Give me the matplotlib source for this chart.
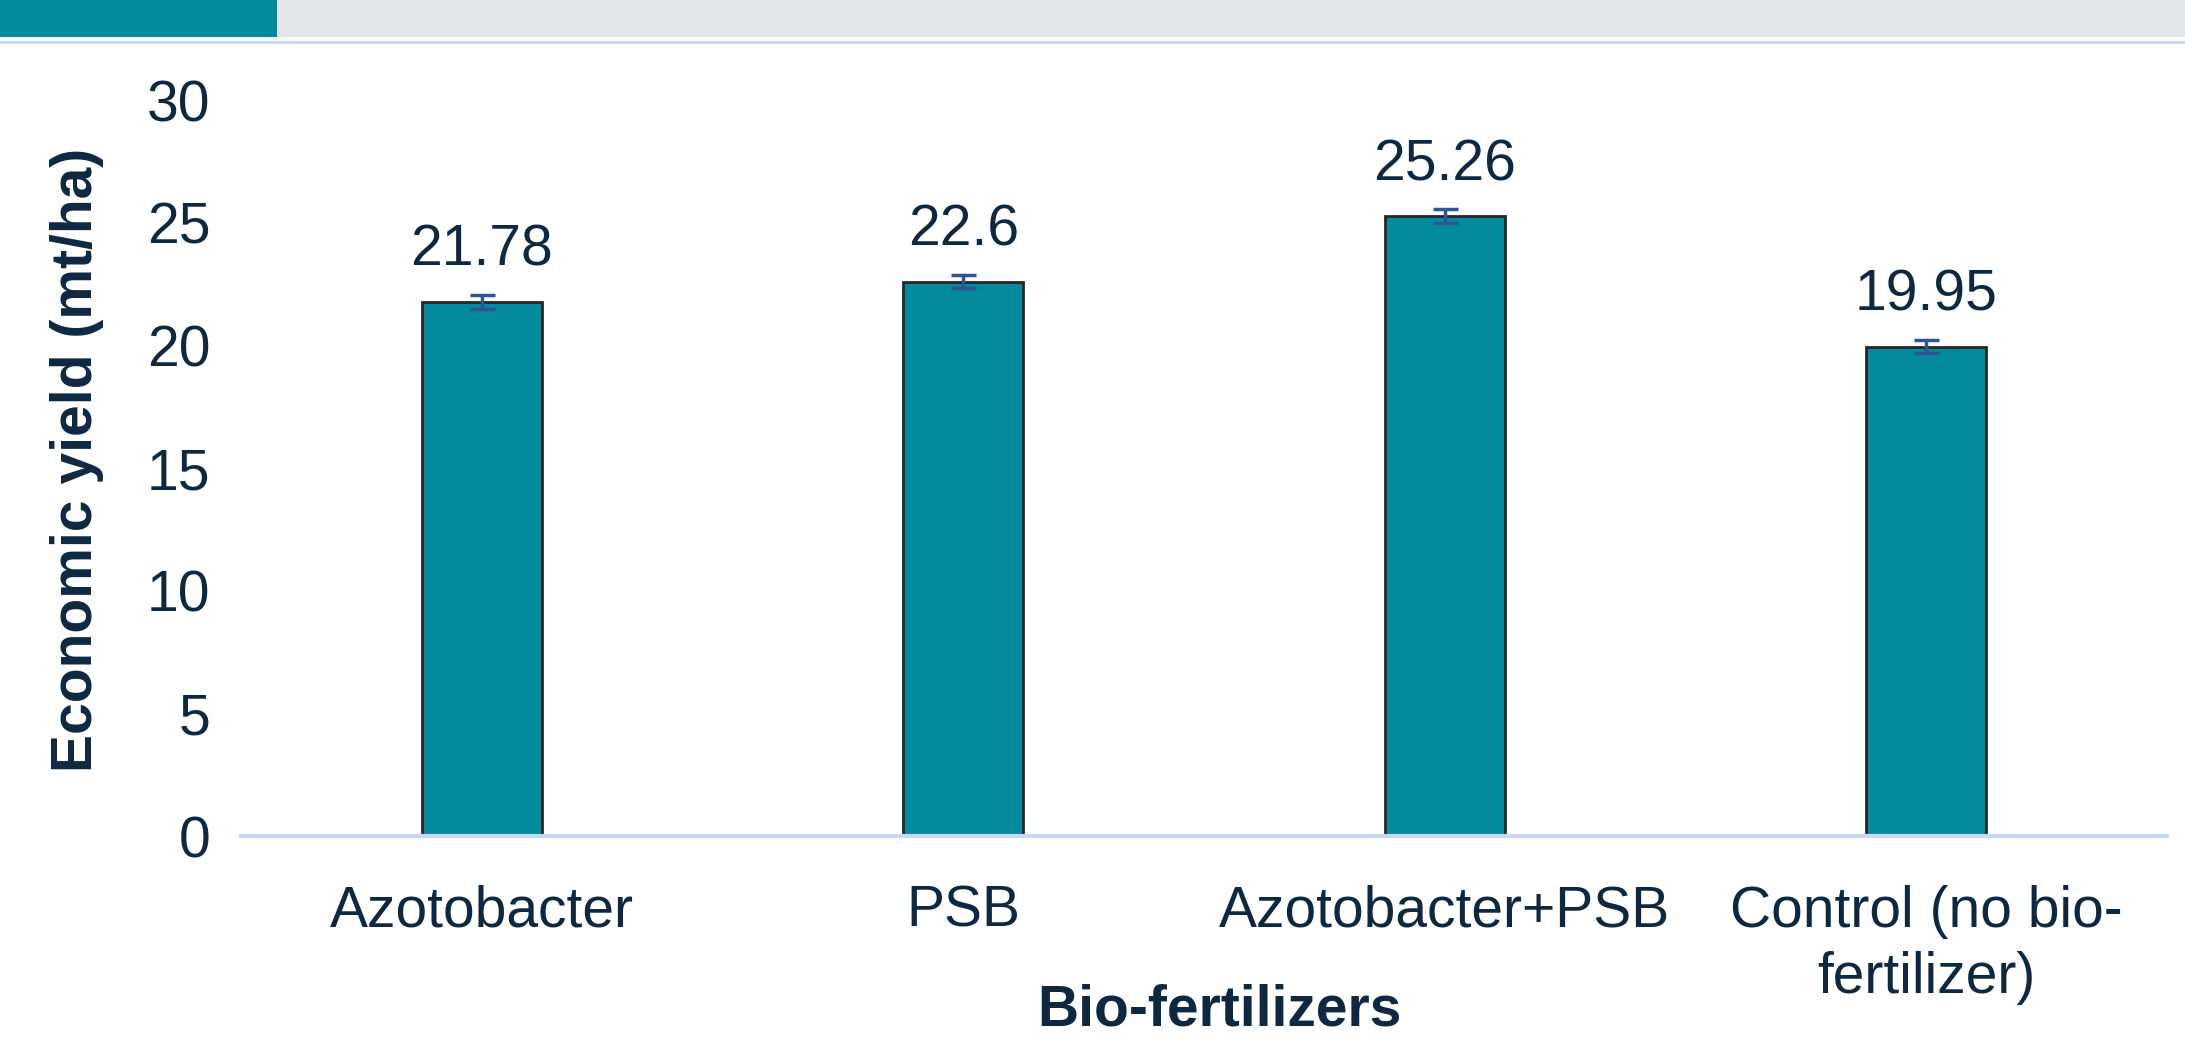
import matplotlib.pyplot as plt
from matplotlib.patches import Rectangle

# Data
categories = ['Azotobacter', 'PSB', 'Azotobacter+PSB', 'Control (no bio-\nfertilizer)']
yield_vals = [21.78, 22.6, 25.26, 19.95]
yield_err = [0.28, 0.28, 0.28, 0.28]
value_labels = ['21.78', '22.6', '25.26', '19.95']
y_ticks = [0, 5, 10, 15, 20, 25, 30]

text_col = '#0E2841'
bar_col = '#038A9C'
fs = 41

plt.rcParams['font.family'] = ['Liberation Sans', 'DejaVu Sans']

fig = plt.figure(figsize=(21.85, 10.52), dpi=100)

# header strip at the top
fig.patches.append(Rectangle((0, 1 - 37 / 1052), 1, 37 / 1052, transform=fig.transFigure,
                             facecolor='#E5E6E8', edgecolor='none', zorder=0))
fig.patches.append(Rectangle((0, 1 - 37 / 1052), 277 / 2185, 37 / 1052, transform=fig.transFigure,
                             facecolor='#038A9C', edgecolor='none', zorder=1))
fig.patches.append(Rectangle((0, 1 - 44 / 1052), 1, 3 / 1052, transform=fig.transFigure,
                             facecolor='#C9DAF0', edgecolor='none', zorder=1))

ax = fig.add_axes([241 / 2185, 1 - 836 / 1052, 1926 / 2185, 736 / 1052])

x = range(len(categories))
ax.bar(x, yield_vals, width=0.25, color=bar_col, edgecolor='#262626', linewidth=2, zorder=2)
ax.errorbar(x, yield_vals, yerr=yield_err, fmt='none', ecolor='#2F5597',
            elinewidth=2.5, capsize=9, capthick=2.5, zorder=3)

for xi, v, lab in zip(x, yield_vals, value_labels):
    ax.annotate(lab, (xi, v), xytext=(0, 51), textcoords='offset pixels',
                ha='center', va='center', fontsize=fs, color=text_col)

ax.set_xlim(-0.5, len(categories) - 0.5)
ax.set_ylim(0, 30)
ax.set_yticks(y_ticks)
ax.set_xticks(list(x))
ax.set_xticklabels(categories, linespacing=1.3)
ax.tick_params(axis='both', length=0, labelsize=fs, labelcolor=text_col)
ax.tick_params(axis='y', pad=22)
ax.tick_params(axis='x', pad=35)

for s in ['top', 'right', 'left']:
    ax.spines[s].set_visible(False)
ax.spines['bottom'].set_color('#C9DAF0')
ax.spines['bottom'].set_linewidth(3)

ax.set_ylabel('Economic yield (mt/ha)', fontsize=fs, fontweight='bold', color=text_col, va='center')
ax.yaxis.set_label_coords(-0.085, 0.511)
ax.set_xlabel('Bio-fertilizers', fontsize=fs, fontweight='bold', color=text_col, va='center')
ax.xaxis.set_label_coords(0.508, -0.237)

fig.savefig('out.png', dpi=100)
